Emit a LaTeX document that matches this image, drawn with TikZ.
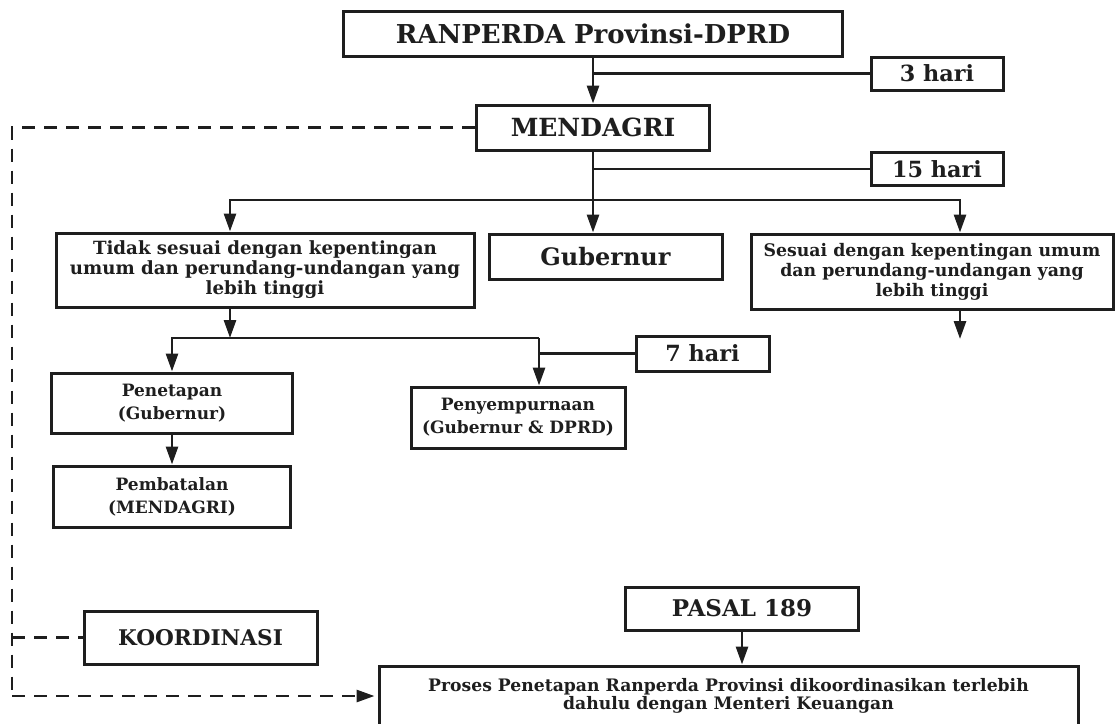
\documentclass[tikz,border=0pt]{standalone}
\usepackage{fontspec}
\setmainfont{DejaVu Serif}
\usepackage{tikz}
\usetikzlibrary{arrows.meta,positioning,calc}
\definecolor{rpink}{HTML}{1E1E1E}
\tikzset{
  rpbox/.style={
    rectangle, draw=rpink, fill=white, line width=3pt,
    inner sep=1pt, align=center, text=rpink
  },
  rptitle/.style={rpbox, font=\fontsize{25}{28}\selectfont\bfseries},
  rpdays/.style={rpbox, minimum width=132pt, minimum height=33pt, font=\fontsize{22.3}{26}\selectfont\bfseries},
  rpnote/.style={rpbox, font=\fontsize{17.8}{20}\selectfont\bfseries},
  rpsmall/.style={rpbox, font=\fontsize{17}{23}\selectfont\bfseries},
  rpwide/.style={rpbox, font=\fontsize{17.2}{18}\selectfont\bfseries},
  rpline/.style={draw=rpink, line width=2.8pt},
  rpedge/.style={rpline, -{Triangle[length=18pt,width=12pt]}},
  rpdash/.style={rpline, dash pattern=on 13pt off 9pt}
}
\begin{document}
\begin{tikzpicture}[x=1pt,y=-1pt]
  \clip (0,0) rectangle (1115,723);
  % main column
  \node[rptitle, minimum width=499pt, minimum height=45pt, font=\fontsize{26}{28}\selectfont\bfseries] (ranperda) at (593,33.5) {RANPERDA Provinsi-DPRD};
  \node[rptitle, minimum width=233pt, minimum height=45pt] (mendagri) at (593,127.5) {MENDAGRI};
  \node[rpdays] (hari3) at (937,73.5) {3 hari};
  \node[rpdays] (hari15) at (937,169) {15 hari};
  \node[rpnote, minimum width=418pt, minimum height=74pt, font=\fontsize{18.2}{20}\selectfont\bfseries] (tidak) at (265,270)
    {Tidak sesuai dengan kepentingan\\umum dan perundang-undangan yang\\lebih tinggi};
  \node[rptitle, minimum width=233pt, minimum height=45pt, font=\fontsize{24}{28}\selectfont\bfseries] (gubernur) at (605.5,256.5) {Gubernur};
  \node[rpnote, minimum width=362pt, minimum height=75pt, font=\fontsize{17.3}{20}\selectfont\bfseries] (sesuai) at (932,271.5)
    {Sesuai dengan kepentingan umum\\dan perundang-undangan yang\\lebih tinggi};
  % second level
  \node[rpsmall, minimum width=241pt, minimum height=60pt] (penetapan) at (172,403) {Penetapan\\(Gubernur)};
  \node[rpsmall, minimum width=237pt, minimum height=61pt] (pembatalan) at (172,496.5) {Pembatalan\\(MENDAGRI)};
  \node[rpsmall, minimum width=214pt, minimum height=61pt] (penyempurnaan) at (518,417.5) {Penyempurnaan\\(Gubernur \& DPRD)};
  \node[rpdays, minimum width=133pt, minimum height=35pt] (hari7) at (702.5,353.5) {7 hari};
  % bottom part
  \node[rpbox, minimum width=233pt, minimum height=53pt, font=\fontsize{21.6}{24}\selectfont\bfseries] (koordinasi) at (200.5,637.5) {KOORDINASI};
  \node[rpbox, minimum width=233pt, minimum height=43pt, font=\fontsize{23}{24}\selectfont\bfseries] (pasal) at (742,608.5) {PASAL 189};
  \node[rpwide, minimum width=699pt, minimum height=60pt] (proses) at (728.5,696)
    {Proses Penetapan Ranperda Provinsi dikoordinasikan terlebih\\dahulu dengan Menteri Keuangan};
  % helper points
  \coordinate (split1) at (593,200);
  \coordinate (c1) at (230,200);
  \coordinate (c3) at (960,200);
  \coordinate (split2) at (230,338);
  \coordinate (c4) at (539,338);
  \coordinate (sesuaiend) at (960,339);
  \coordinate (dleft) at (12,124);
  % connectors
  \draw[rpedge] (ranperda) -- (mendagri);
  \draw[rpline] (hari3.west) -- (hari3.west -| mendagri.north);
  \draw[rpline] (mendagri.south) -- (split1);
  \draw[rpline] (hari15.west) -- (hari15.west -| split1);
  \draw[rpedge] (split1) -- (c1) -- (c1 |- tidak.north);
  \draw[rpedge] (split1) -- (split1 |- gubernur.north);
  \draw[rpedge] (split1) -- (c3) -- (c3 |- sesuai.north);
  \draw[rpedge] (sesuaiend |- sesuai.south) -- (sesuaiend);
  \draw[rpedge] (split2 |- tidak.south) -- (split2);
  \draw[rpedge] (c4) -| (penetapan.north);
  \draw[rpedge] (c4) -- (c4 |- penyempurnaan.north);
  \draw[rpline] (hari7.west) -- (hari7.west -| c4);
  \draw[rpedge] (penetapan) -- (pembatalan);
  \draw[rpedge] (pasal) -- (pasal |- proses.north);
  % coordination (dashed)
  \draw[rpdash] (mendagri.west) -- (mendagri.west -| dleft) -- (dleft |- proses.west);
  \draw[rpdash, -{Triangle[length=18pt,width=12pt]}] (dleft |- proses.west) -- ([xshift=-3pt]proses.west);
  \draw[rpdash] (dleft |- koordinasi.west) -- (koordinasi.west);
\end{tikzpicture}
\end{document}
